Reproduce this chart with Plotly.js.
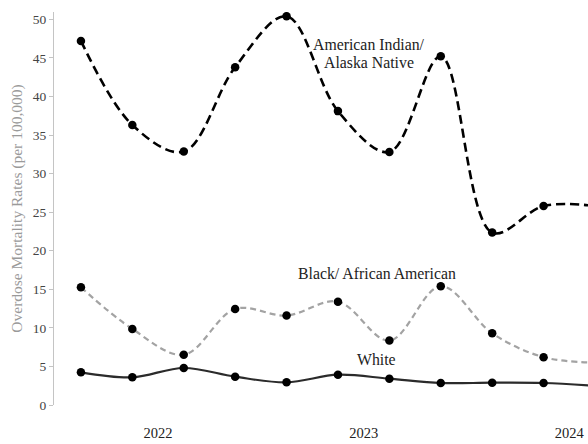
<!DOCTYPE html>
<html>
<head>
<meta charset="utf-8">
<script src="https://cdn.plot.ly/plotly-3.0.1.min.js"></script>
<style>html,body{margin:0;padding:0;background:#fff;}#chart{width:588px;height:444px;}</style>
</head>
<body>
<div id="chart"></div>
<script>
// Quarterly points (index), last one lies beyond the visible edge
const periods = [0, 1, 2, 3, 4, 5, 6, 7, 8, 9, 10];
const aian = [47.2, 36.3, 32.85, 43.8, 50.4, 38.1, 32.8, 45.2, 22.35, 25.8, 25.8];
const black = [15.26, 9.86, 6.52, 12.45, 11.6, 13.4, 8.35, 15.4, 9.3, 6.2, 5.5];
const white = [4.24, 3.59, 4.8, 3.67, 2.94, 3.93, 3.41, 2.85, 2.89, 2.85, 2.5];
const yearTickPos = [1.5, 5.5, 9.5];
const yearLabels = ['2022', '2023', '2024'];
const aianLabelLines = ['American Indian/', 'Alaska Native'];
const blackLabel = 'Black/ African American';
const whiteLabel = 'White';

const serif = 'Liberation Serif, Times New Roman, serif';
const marker = {color: '#000', size: 8.5};

const traces = [
  {x: periods, y: aian, mode: 'lines+markers', line: {shape: 'spline', smoothing: 1, color: '#000', width: 2.6, dash: '9px,5px'}, marker: marker},
  {x: periods, y: black, mode: 'lines+markers', line: {shape: 'spline', smoothing: 1, color: '#a3a3a3', width: 2.2, dash: '6px,4px'}, marker: marker},
  {x: periods, y: white, mode: 'lines+markers', line: {shape: 'spline', smoothing: 1, color: '#2b2b2b', width: 2.2}, marker: marker}
];

const labelFont = {family: serif, size: 15.8, color: '#222'};

const layout = {
  width: 588, height: 444,
  margin: {l: 54, r: 0, t: 12, b: 39},
  paper_bgcolor: '#fff', plot_bgcolor: '#fff',
  showlegend: false,
  font: {family: serif, color: '#333', size: 13},
  xaxis: {
    range: [-0.524, 9.864], showgrid: false, zeroline: false, showline: false,
    tickvals: yearTickPos, ticktext: yearLabels, ticks: '',
    tickfont: {family: serif, size: 14.5, color: '#222'}, ticklabelstandoff: 17
  },
  yaxis: {
    range: [0, 50.95], showgrid: false, zeroline: false, showline: true,
    linecolor: '#c4c4c4', linewidth: 1, ticks: 'outside', ticklen: 4, tickcolor: '#c4c4c4',
    tickvals: [0, 5, 10, 15, 20, 25, 30, 35, 40, 45, 50],
    tickfont: {family: serif, size: 13.5, color: '#444'},
    title: {text: 'Overdose Mortality Rates (per 100,000)', font: {family: serif, size: 15.5, color: '#9a9a9a'}, standoff: 6}
  },
  annotations: [
    {x: 5.61, y: 46.7, xref: 'x', yref: 'y', text: aianLabelLines[0], showarrow: false, font: labelFont},
    {x: 5.61, y: 44.35, xref: 'x', yref: 'y', text: aianLabelLines[1], showarrow: false, font: labelFont},
    {x: 5.76, y: 17.1, xref: 'x', yref: 'y', text: blackLabel, showarrow: false, font: labelFont},
    {x: 5.75, y: 5.96, xref: 'x', yref: 'y', text: whiteLabel, showarrow: false, font: labelFont}
  ]
};

Plotly.newPlot('chart', traces, layout, {staticPlot: true, displayModeBar: false});
</script>
</body>
</html>
